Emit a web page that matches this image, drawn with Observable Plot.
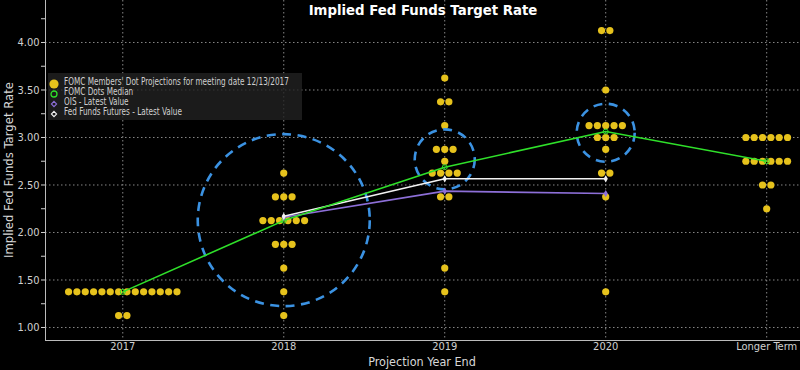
<!DOCTYPE html>
<html>
<head>
<meta charset="utf-8">
<script src="https://cdn.jsdelivr.net/npm/d3@7"></script>
<script src="https://cdn.jsdelivr.net/npm/@observablehq/plot@0.6"></script>
<style>
  html, body { margin: 0; padding: 0; background: #000; }
  #wrap { position: relative; width: 800px; height: 370px; background: #000; overflow: hidden; }
  #wrap svg { position: absolute; left: 0; top: 0; }
  .title { position: absolute; left: 0; width: 846px; top: 3px; text-align: center; color: #fff;
           font: bold 13.3px "DejaVu Sans", sans-serif; }
  .ylab { position: absolute; left: 8px; top: 170px; transform: translate(-50%, -50%) rotate(-90deg);
          white-space: nowrap; color: #d8d8d8; font: 13px "DejaVu Sans Condensed", sans-serif; }
  .xlab { position: absolute; left: 422px; top: 360.5px; transform: translate(-50%, -50%);
          white-space: nowrap; color: #d8d8d8; font: 12.5px "DejaVu Sans Condensed", sans-serif; line-height: 13px; }
  .legend { position: absolute; left: 48px; top: 73px; width: 254px; height: 47px;
            background: rgba(34,34,34,0.8); }
  .legend .item { position: absolute; left: 0; height: 10px; white-space: nowrap; color: #d0d0d0;
                  font: 9.6px "DejaVu Sans Condensed", sans-serif; line-height: 10px; }
  .legend svg { position: absolute; left: 3px; top: -2px; }
  .legend span { position: absolute; left: 16px; top: 0; transform: scaleX(0.845); transform-origin: 0 50%; }
</style>
</head>
<body>
<div id="wrap"></div>
<script>
// ---------------- data ----------------
const categories = ["2017", "2018", "2019", "2020", "Longer Term"];
// FOMC dot projections: [rate, number of participants]
const dots2017 = [[1.375, 14], [1.125, 2]];
const dots2018 = [[2.625, 1], [2.375, 3], [2.125, 6], [1.875, 3], [1.625, 1], [1.375, 1], [1.125, 1]];
const dots2019 = [[3.625, 1], [3.375, 2], [3.125, 1], [2.875, 3], [2.75, 1], [2.625, 4], [2.375, 2], [1.625, 1], [1.375, 1]];
const dots2020 = [[4.125, 2], [3.5, 1], [3.125, 5], [3.0, 3], [2.875, 1], [2.625, 2], [2.375, 1], [1.375, 1]];
const dotsLonger = [[3.0, 6], [2.75, 6], [2.5, 2], [2.25, 1]];
const medianValues = [1.375, 2.125, 2.6875, 3.0625, 2.75];
const marketCategories = ["2018", "2019", "2020"];
const oisValues = [2.16, 2.435, 2.41];
const futuresValues = [2.17, 2.565, 2.565];
const highlightCategories = ["2018", "2019", "2020"];
const highlightCenters = [2.13, 2.77, 3.05];
const yTickValues = [1.0, 1.5, 2.0, 2.5, 3.0, 3.5, 4.0];
const yMinorTickValues = [1.25, 1.75, 2.25, 2.75, 3.25, 3.75, 4.25];

// ---------------- layout / style constants ----------------
const highlightRadii = [86, 30, 29];
const DOT_STEP = 0.0518; // horizontal spacing of dots in a row (category units)
const xDomain = [-0.48, 4.21];
const yDomain = [0.863, 4.442];
const YELLOW = "#e6c21c", GREEN = "#2fe02a", WHITE = "#f2f2f2", PURPLE = "#8d6fd8", BLUE = "#3b92e2";
const GRID = "#a8a8a8";

// ---------------- build tables ----------------
const dotSets = [dots2017, dots2018, dots2019, dots2020, dotsLonger];
const dotRows = [];
dotSets.forEach((set, ci) => {
  set.forEach(([rate, n]) => {
    for (let k = 0; k < n; k++) dotRows.push({x: ci + (k - (n - 1) / 2) * DOT_STEP, rate});
  });
});
const median = categories.map((c, i) => ({x: i, rate: medianValues[i]}));
const ois = marketCategories.map((c, i) => ({x: categories.indexOf(c), rate: oisValues[i]}));
const futures = marketCategories.map((c, i) => ({x: categories.indexOf(c), rate: futuresValues[i]}));
const highlights = highlightCategories.map((c, i) => ({x: categories.indexOf(c), rate: highlightCenters[i], r: highlightRadii[i]}));
const allYTicks = [...yTickValues, ...yMinorTickValues].sort((a, b) => a - b);

const chart = Plot.plot({
  width: 800,
  height: 370,
  marginTop: 0,
  marginBottom: 30,
  marginLeft: 45,
  marginRight: 0,
  style: {background: "#000", color: "#d0d0d0", fontFamily: "'DejaVu Sans Condensed', sans-serif", fontSize: "11px"},
  x: {domain: xDomain, ticks: [0, 1, 2, 3, 4], tickFormat: i => categories[i], tickSize: 0, tickPadding: 2, label: null},
  y: {domain: yDomain, ticks: allYTicks, tickFormat: v => yTickValues.includes(v) ? v.toFixed(2) : "", tickSize: 4, tickPadding: 2, label: null},
  marks: [
    Plot.ruleY(yTickValues, {stroke: GRID, strokeDasharray: "1.5,2.5", strokeOpacity: 0.8}),
    Plot.ruleX([0, 1, 2, 3, 4], {stroke: GRID, strokeDasharray: "1.5,2.5", strokeOpacity: 0.8}),
    Plot.ruleX([xDomain[0]], {stroke: "#bbb", strokeWidth: 1}),
    Plot.ruleY([yDomain[0]], {stroke: "#bbb", strokeWidth: 1}),
    Plot.dot(dotRows, {x: "x", y: "rate", r: 3.6, fill: YELLOW, stroke: "none"}),
    ...highlights.map(h => Plot.dot([h], {x: "x", y: "rate", r: h.r, stroke: BLUE, strokeWidth: 2.6, strokeDasharray: "9,6.5", fill: "none"})),
    Plot.line(ois, {x: "x", y: "rate", stroke: PURPLE, strokeWidth: 1.6}),
    Plot.line(futures, {x: "x", y: "rate", stroke: WHITE, strokeWidth: 1.6}),
    Plot.line(median, {x: "x", y: "rate", stroke: GREEN, strokeWidth: 1.6}),
    Plot.dot(median, {x: "x", y: "rate", r: 2.5, stroke: GREEN, strokeWidth: 1, fill: "none"}),
    Plot.dot(ois, {x: "x", y: "rate", symbol: "diamond", r: 2.2, fill: PURPLE}),
    Plot.dot(futures, {x: "x", y: "rate", symbol: "diamond", r: 2.2, fill: WHITE})
  ]
});

const wrap = document.getElementById("wrap");
wrap.appendChild(chart);

function add(cls, text) {
  const d = document.createElement("div");
  d.className = cls;
  d.textContent = text;
  wrap.appendChild(d);
  return d;
}
add("title", "Implied Fed Funds Target Rate");
add("ylab", "Implied Fed Funds Target Rate");
add("xlab", "Projection Year End");

const legendItems = [
  {label: "FOMC Members' Dot Projections for meeting date 12/13/2017", icon: `<circle cx="6" cy="7" r="4.6" fill="${YELLOW}"/>`},
  {label: "FOMC Dots Median", icon: `<circle cx="6" cy="7" r="3" fill="none" stroke="${GREEN}" stroke-width="1.3"/>`},
  {label: "OIS - Latest Value", icon: `<path d="M6 4.4 L8.6 7 L6 9.6 L3.4 7 Z" fill="none" stroke="${PURPLE}" stroke-width="1.1"/>`},
  {label: "Fed Funds Futures - Latest Value", icon: `<path d="M6 4.4 L8.6 7 L6 9.6 L3.4 7 Z" fill="none" stroke="${WHITE}" stroke-width="1.1"/>`}
];
const legend = document.createElement("div");
legend.className = "legend";
legendItems.forEach((it, i) => {
  const row = document.createElement("div");
  row.className = "item";
  row.style.top = (3.5 + i * 10.3) + "px";
  row.style.width = "254px";
  row.innerHTML = `<svg width="14" height="14">${it.icon}</svg>`;
  const s = document.createElement("span");
  s.textContent = it.label;
  row.appendChild(s);
  legend.appendChild(row);
});
wrap.appendChild(legend);
</script>
</body>
</html>
